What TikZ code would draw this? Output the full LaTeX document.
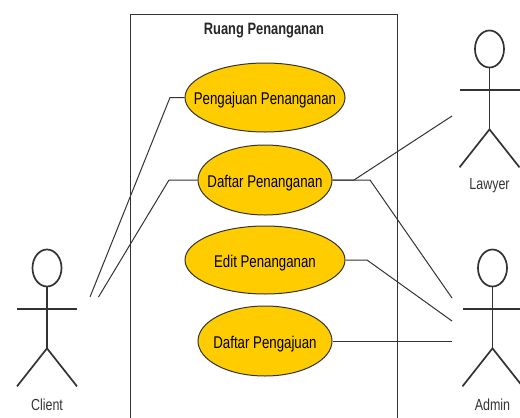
\documentclass[tikz,border=0pt]{standalone}
\usepackage{fontspec}
\usetikzlibrary{shapes.geometric,calc}
\setmainfont[FakeStretch=0.78]{Liberation Sans}
\definecolor{casefill}{HTML}{FFCC00}
\definecolor{linegray}{HTML}{333333}
\tikzset{
  usecase/.style={draw=linegray,fill=casefill,ellipse,line width=1pt,inner sep=0pt,font=\fontsize{17}{19}\selectfont},
  actorhead/.style={draw=linegray,ellipse,line width=1.7pt,inner sep=0pt,minimum width=29pt,minimum height=37pt},
  actorlimb/.style={draw=linegray,line width=1.7pt},
  actorname/.style={font=\fontsize{16}{18}\selectfont,text=linegray},
  link/.style={draw=linegray,line width=1pt}
}
\begin{document}
\begin{tikzpicture}[x=1pt,y=-1pt]
\useasboundingbox (0,0) rectangle (520,418);
\draw[linegray,line width=0.9pt] (130.5,418) -- (130.5,14) -- (397.5,14) -- (397.5,418);
\node[font=\bfseries\fontsize{16.5}{18}\selectfont,text=black!85] (title) at (264,31) {Ruang Penanganan};
\foreach \name/\cx/\cy/\w/\h/\txt in {pengajuan/265/97.5/160/69/Pengajuan Penanganan,daftar/265/180/134/70/Daftar Penanganan,edit/265/260/160/68/Edit Penanganan,ajuan/265/341/134/70/Daftar Pengajuan} {
  \node[usecase,minimum width=\w pt,minimum height=\h pt] (\name) at (\cx,\cy) {\raisebox{-7pt}[0pt][0pt]{\makebox[0pt]{\txt}}};
}
% actors
\foreach \name/\cx/\cy/\ly/\txt in {client/47/268/405/Client,lawyer/489.5/49/186/Lawyer,admin/492.5/268/405/Admin} {
  \node[actorhead] (\name) at (\cx,\cy) {};
  \draw[actorlimb] (\name.south) -- +(0,61) coordinate (\name hip);
  \draw[actorlimb] ($(\name.south)+(-30,21.5)$) -- +(60,0);
  \draw[actorlimb] ($(\name hip)+(-30,38)$) -- (\name hip) -- ($(\name hip)+(30,38)$);
  \node[actorname] (\name label) at (\cx,\ly) {\txt};
}
\coordinate (clienta) at (90,297);
\coordinate (clientb) at (98.5,297);
\coordinate (lawyerend) at (452,116);
\coordinate (admina) at (452,298);
\coordinate (adminb) at (452,321);
\coordinate (adminc) at (452,341);
\draw[link] (clienta) -- (170,97.5) -- (pengajuan);
\draw[link] (clientb) -- (169,180) -- (daftar);
\draw[link] (daftar) -- (354,180) -- (lawyerend);
\draw[link] (daftar) -- (370,180) -- (admina);
\draw[link] (edit) -- (367,260) -- (adminb);
\draw[link] (ajuan) -- (adminc);
\end{tikzpicture}
\end{document}
